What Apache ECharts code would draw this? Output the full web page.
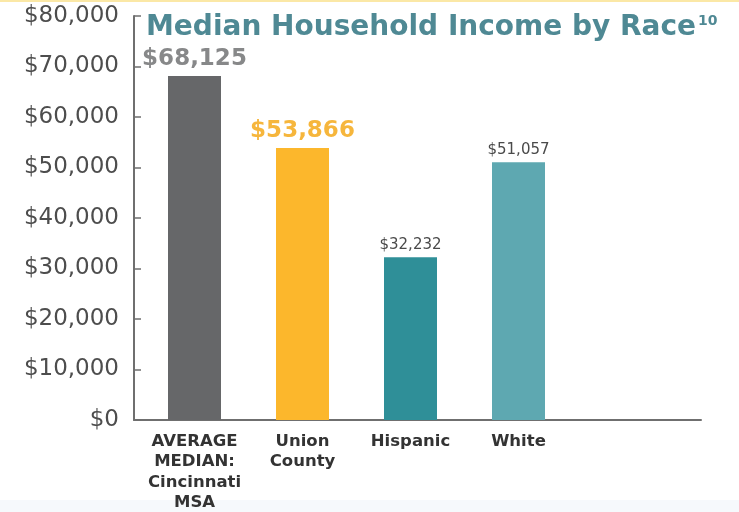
<!DOCTYPE html>
<html>
<head>
<meta charset="utf-8">
<script src="https://cdn.jsdelivr.net/npm/echarts@6/dist/echarts.min.js"></script>
<style>
  html, body { margin: 0; padding: 0; background: #ffffff; }
  #chart { width: 739px; height: 512px; }
</style>
</head>
<body>
<div id="chart"></div>
<script>
// Median household income figures
const categories = ['AVERAGE\nMEDIAN:\nCincinnati\nMSA', 'Union\nCounty', 'Hispanic', 'White'];
const incomes = [68125, 53866, 32232, 51057];
const yTicks = [0, 10000, 20000, 30000, 40000, 50000, 60000, 70000, 80000];

const FONT = 'DejaVu Sans';
const barColors = ['#666769', '#fcb72c', '#2f8f98', '#5ea8b1'];
// Headline values are large and bold, the rest small
const labelStyles = [
  { fontSize: 23, fontWeight: 'bold', color: '#878889', distance: 5 },
  { fontSize: 23, fontWeight: 'bold', color: '#f6b63c', distance: 5 },
  { fontSize: 15, fontWeight: 'normal', color: '#4a4a4a', distance: 5 },
  { fontSize: 15, fontWeight: 'normal', color: '#4a4a4a', distance: 5 }
];

const money = v => '$' + v.toLocaleString('en-US');

const barData = incomes.map((v, i) => ({
  value: v,
  itemStyle: { color: barColors[i] },
  label: Object.assign({ fontFamily: FONT }, labelStyles[i])
}));

const yMin = yTicks[0];
const yMax = yTicks[yTicks.length - 1];
const yStep = yTicks[1] - yTicks[0];

const chart = echarts.init(document.getElementById('chart'), null, { renderer: 'canvas' });
chart.setOption({
  animation: false,
  backgroundColor: '#ffffff',
  title: {
    left: 141,
    top: 9,
    text: '{t|Median Household Income by Race}{s|10}',
    textStyle: {
      rich: {
        t: { fontFamily: FONT, fontSize: 28, fontWeight: 'bold', color: '#4f8994' },
        s: { fontFamily: FONT, fontSize: 14, fontWeight: 'bold', color: '#4f8994', verticalAlign: 'top', padding: [0, 0, 14, 2] }
      }
    }
  },
  graphic: [
    { type: 'rect', left: 0, top: 0, shape: { width: 739, height: 2 }, style: { fill: '#fbe8a6' }, silent: true },
    { type: 'rect', left: 0, top: 500, shape: { width: 739, height: 12 }, style: { fill: '#f6f9fc' }, silent: true, z: -10 }
  ],
  grid: [
    // frame: value axis and baseline
    { left: 134, right: 38, top: 16, bottom: 92, outerBoundsMode: 'none' },
    // bars
    { left: 140.5, width: 432, top: 16, bottom: 92, outerBoundsMode: 'none' }
  ],
  xAxis: [
    {
      gridIndex: 0, type: 'value', min: 0, max: 1,
      axisLine: { show: true, lineStyle: { color: '#6f6f6f', width: 2 } },
      axisTick: { show: false }, axisLabel: { show: false }, splitLine: { show: false }
    },
    {
      gridIndex: 1, type: 'category', data: categories,
      axisLine: { show: false }, axisTick: { show: false },
      axisLabel: {
        interval: 0, margin: 11, fontFamily: FONT, fontSize: 16.5, fontWeight: 'bold',
        color: '#333333', lineHeight: 20.5, align: 'center', verticalAlign: 'top'
      }
    }
  ],
  yAxis: [
    {
      gridIndex: 0, type: 'value', min: yMin, max: yMax, interval: yStep,
      axisLine: { show: true, lineStyle: { color: '#6f6f6f', width: 2 } },
      axisTick: { show: true, inside: true, length: 7, lineStyle: { color: '#6f6f6f', width: 1.5 } },
      splitLine: { show: false },
      axisLabel: { formatter: money, fontFamily: FONT, fontSize: 23, color: '#4d4d4d', margin: 15 }
    },
    {
      gridIndex: 1, type: 'value', min: yMin, max: yMax, interval: yStep, show: false
    }
  ],
  series: [
    {
      type: 'bar',
      xAxisIndex: 1,
      yAxisIndex: 1,
      barWidth: 53,
      data: barData,
      label: { show: true, position: 'top', formatter: p => money(p.value) }
    }
  ]
});
</script>
</body>
</html>
